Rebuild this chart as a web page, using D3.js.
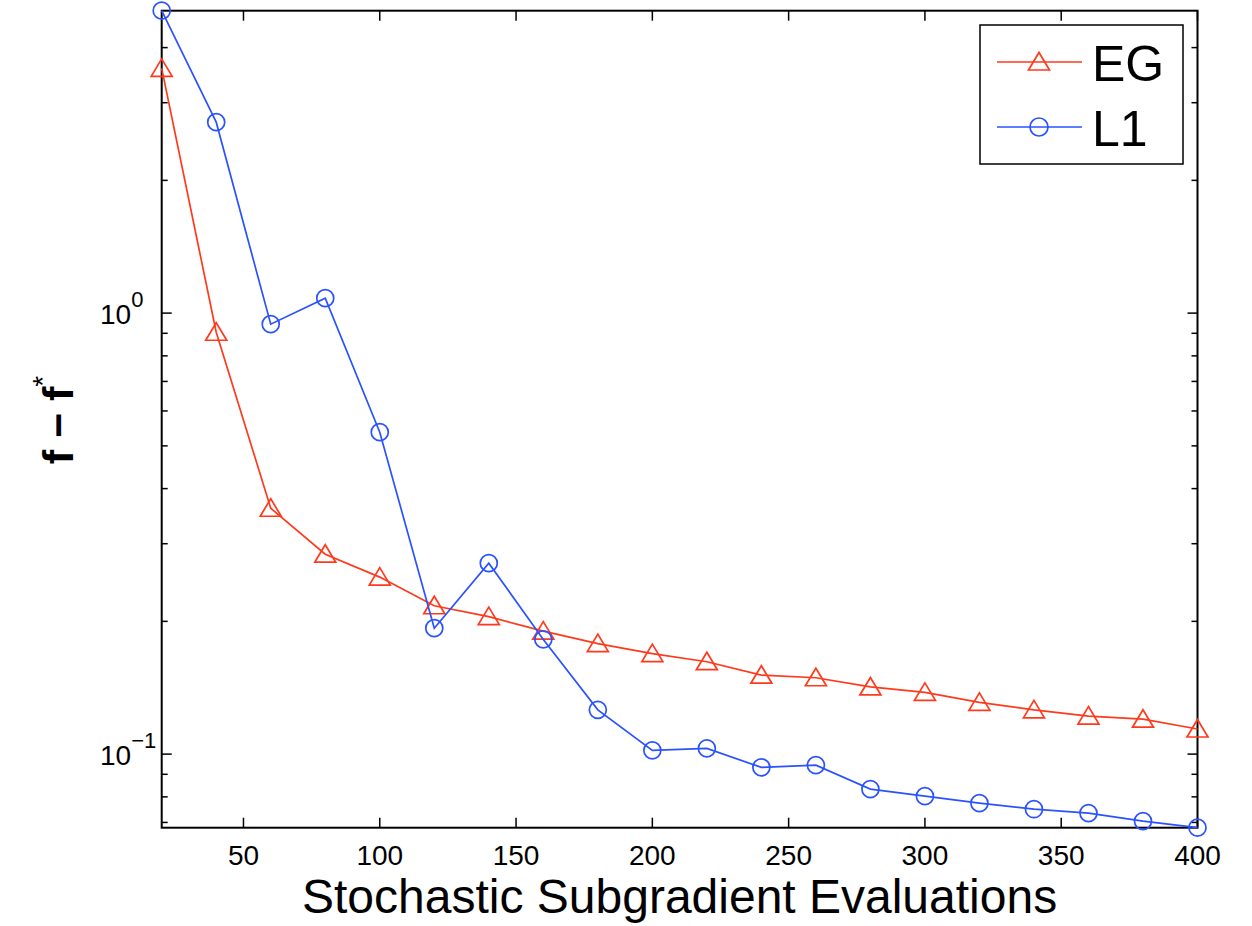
<!DOCTYPE html>
<html>
<head>
<meta charset="utf-8">
<script src="https://cdn.jsdelivr.net/npm/d3@7/dist/d3.min.js"></script>
<style>
	body { margin: 0; background: #fff; }
	text { font-family: "Liberation Sans", Arial, Helvetica, sans-serif; fill: #000; }
</style>
</head>
<body>
<div id="chart"></div>
<script>
// data
var evals = [20, 40, 60, 80, 100, 120, 140, 160, 180, 200, 220, 240, 260, 280, 300, 320, 340, 360, 380, 400];
var egValues = [3.59, 0.905, 0.361, 0.284, 0.252, 0.217, 0.205, 0.190, 0.178, 0.169, 0.162, 0.151, 0.149, 0.142, 0.138, 0.131, 0.126, 0.122, 0.120, 0.114];
var l1Values = [4.85, 2.71, 0.944, 1.081, 0.537, 0.193, 0.271, 0.182, 0.126, 0.102, 0.103, 0.0933, 0.0944, 0.0833, 0.0803, 0.0774, 0.0750, 0.0735, 0.0705, 0.0681];
var xTicks = [50, 100, 150, 200, 250, 300, 350, 400];
var yMajorTicks = [0.1, 1];
var yMajorLabels = [["10", "\u22121"], ["10", "0"]];
var seriesNames = ["EG", "L1"];

var layout = {
	w: 1252,
	h: 926,
	left: 161.7,
	right: 1197.5,
	top: 10.7,
	bottom: 827.7
};

var colors = { EG: "#ff3a1c", L1: "#2a52ff" };

var svg = d3.select("#chart")
			.append("svg")
			.attr("width", layout.w)
			.attr("height", layout.h);

var xScale = d3.scaleLinear().domain([20, 400]).range([layout.left, layout.right]),
	yScale = d3.scaleLog().domain([0.0681, 4.85]).range([layout.bottom, layout.top]);

// axes, ticks pointing inward on all four sides
var majorLen = 10, minorLen = 6;
var axes = svg.append("g").attr("class", "axes");

axes.selectAll(".xtick-b")
	.data(xTicks)
	.enter().append("line")
	.attr("x1", function(d){ return xScale(d); })
	.attr("x2", function(d){ return xScale(d); })
	.attr("y1", layout.bottom)
	.attr("y2", layout.bottom - majorLen);

axes.selectAll(".xtick-t")
	.data(xTicks)
	.enter().append("line")
	.attr("x1", function(d){ return xScale(d); })
	.attr("x2", function(d){ return xScale(d); })
	.attr("y1", layout.top)
	.attr("y2", layout.top + majorLen);

var yAllTicks = yScale.ticks().filter(function(d){ return d >= 0.0681 && d <= 4.85; });

var isMajor = function(d){
	return yMajorTicks.some(function(m){ return Math.abs(m - d) < 1e-9; });
};

axes.selectAll(".ytick-l")
	.data(yAllTicks)
	.enter().append("line")
	.attr("x1", layout.left)
	.attr("x2", function(d){ return layout.left + (isMajor(d) ? majorLen : minorLen); })
	.attr("y1", function(d){ return yScale(d); })
	.attr("y2", function(d){ return yScale(d); });

axes.selectAll(".ytick-r")
	.data(yAllTicks)
	.enter().append("line")
	.attr("x1", layout.right)
	.attr("x2", function(d){ return layout.right - (isMajor(d) ? majorLen : minorLen); })
	.attr("y1", function(d){ return yScale(d); })
	.attr("y2", function(d){ return yScale(d); });

axes.selectAll("line")
	.style("stroke", "#000")
	.style("stroke-width", 1.5);

axes.append("rect")
	.attr("x", layout.left)
	.attr("y", layout.top)
	.attr("width", layout.right - layout.left)
	.attr("height", layout.bottom - layout.top)
	.style("fill", "none")
	.style("stroke", "#000")
	.style("stroke-width", 2);

// tick labels
svg.append("g")
	.selectAll("text")
	.data(xTicks)
	.enter().append("text")
	.attr("x", function(d){ return xScale(d); })
	.attr("y", 865)
	.attr("text-anchor", "middle")
	.style("font-size", "28px")
	.text(function(d){ return d; });

var yLab = svg.append("g")
	.selectAll("text")
	.data(yMajorTicks)
	.enter().append("text")
	.attr("x", 100)
	.attr("y", function(d){ return yScale(d) + 11; })
	.style("font-size", "28px");

yLab.append("tspan")
	.text(function(d, i){ return yMajorLabels[i][0]; });
yLab.append("tspan")
	.attr("dy", -17)
	.style("font-size", "22px")
	.text(function(d, i){ return yMajorLabels[i][1]; });

// axis titles
svg.append("text")
	.attr("x", (layout.left + layout.right) / 2)
	.attr("y", 913)
	.attr("text-anchor", "middle")
	.style("font-size", "48px")
	.text("Stochastic Subgradient Evaluations");

var yTitle = svg.append("text")
	.attr("transform", "translate(73,420) rotate(-90)")
	.attr("text-anchor", "middle")
	.style("font-size", "43px")
	.style("font-weight", "bold");
yTitle.append("tspan").text("f \u2212 f");
yTitle.append("tspan")
	.attr("dy", -21)
	.style("font-size", "28px")
	.style("font-weight", "normal")
	.text("*");

// series
var line = d3.line()
			.x(function(d){ return xScale(d[0]); })
			.y(function(d){ return yScale(d[1]); });

var triangle = function(cx, cy){
	var s = 10.5;
	return "M" + cx + "," + (cy - 9.5) +
		"L" + (cx + s) + "," + (cy + 8) +
		"L" + (cx - s) + "," + (cy + 8) + "Z";
};

var egData = evals.map(function(d, i){ return [d, egValues[i]]; }),
	l1Data = evals.map(function(d, i){ return [d, l1Values[i]]; });

var g_series = svg.append("g").attr("class", "series");

g_series.append("path")
	.attr("d", line(egData))
	.style("fill", "none")
	.style("stroke", colors.EG)
	.style("stroke-width", 1.7);

g_series.selectAll(".eg-marker")
	.data(egData)
	.enter().append("path")
	.attr("class", "eg-marker")
	.attr("d", function(d){ return triangle(xScale(d[0]), yScale(d[1])); })
	.style("fill", "none")
	.style("stroke", colors.EG)
	.style("stroke-width", 1.7);

g_series.append("path")
	.attr("d", line(l1Data))
	.style("fill", "none")
	.style("stroke", colors.L1)
	.style("stroke-width", 1.7);

g_series.selectAll(".l1-marker")
	.data(l1Data)
	.enter().append("circle")
	.attr("class", "l1-marker")
	.attr("cx", function(d){ return xScale(d[0]); })
	.attr("cy", function(d){ return yScale(d[1]); })
	.attr("r", 8.5)
	.style("fill", "none")
	.style("stroke", colors.L1)
	.style("stroke-width", 1.7);

// legend
var legend = svg.append("g").attr("class", "legend");
legend.append("rect")
	.attr("x", 980)
	.attr("y", 25)
	.attr("width", 203)
	.attr("height", 139)
	.style("fill", "#fff")
	.style("stroke", "#000")
	.style("stroke-width", 1.5);

var legendRows = legend.selectAll(".row")
	.data(seriesNames)
	.enter().append("g")
	.attr("transform", function(d, i){ return "translate(0," + (62 + i * 65) + ")"; });

legendRows.append("line")
	.attr("x1", 997)
	.attr("x2", 1082)
	.attr("y1", 0)
	.attr("y2", 0)
	.style("stroke", function(d){ return colors[d]; })
	.style("stroke-width", 1.7);

legendRows.filter(function(d){ return d == "EG"; })
	.append("path")
	.attr("d", triangle(1039, 0))
	.style("fill", "none")
	.style("stroke", colors.EG)
	.style("stroke-width", 1.7);

legendRows.filter(function(d){ return d == "L1"; })
	.append("circle")
	.attr("cx", 1039)
	.attr("cy", 0)
	.attr("r", 9)
	.style("fill", "none")
	.style("stroke", colors.L1)
	.style("stroke-width", 1.7);

legendRows.append("text")
	.attr("x", 1092)
	.attr("y", 19)
	.style("font-size", "50px")
	.text(function(d){ return d; });
</script>
</body>
</html>
